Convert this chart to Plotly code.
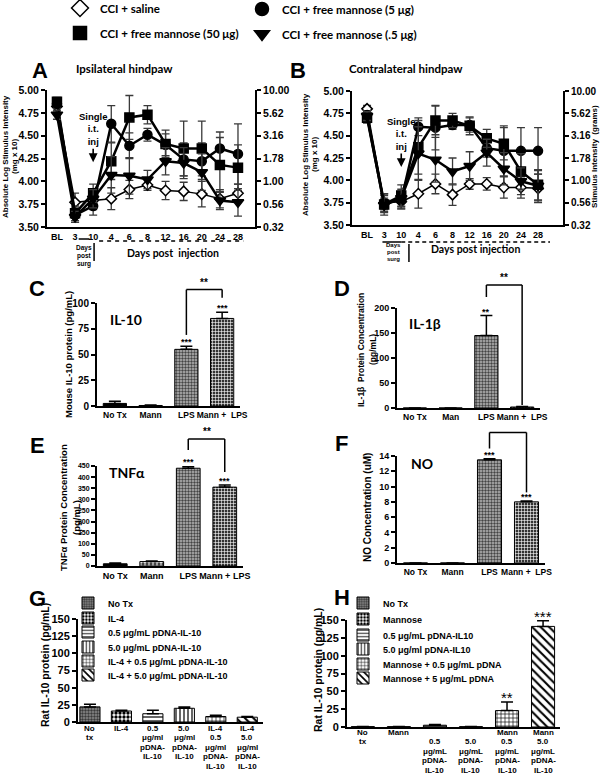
import plotly.graph_objects as go

W, H = 600, 775
ARIAL = "Liberation Sans, Arial, sans-serif"
CALI = "Lato, Open Sans, sans-serif"

# ---------------- data ----------------
days = ["BL", "3", "10", "4", "6", "8", "12", "16", "20", "24", "28"]
series_names = ["CCI + saline", "CCI + free mannose (5 μg)",
                "CCI + free mannose (50 μg)", "CCI + free mannose (.5 μg)"]

ipsi_saline = [4.82, 3.77, 3.79, 3.81, 3.91, 3.96, 3.90, 3.89, 3.86, 3.81, 3.87]
ipsi_m5 = [4.85, 3.63, 3.73, 4.63, 4.39, 4.51, 4.40, 4.24, 4.22, 4.36, 4.30]
ipsi_m50 = [4.87, 3.65, 3.87, 4.22, 4.70, 4.73, 4.41, 4.36, 4.36, 4.18, 4.15]
ipsi_m05 = [4.73, 3.61, 3.81, 4.07, 4.06, 4.02, 4.22, 4.20, 4.10, 3.79, 3.77]
ipsi_saline_err = [0.05, 0.10, 0.10, 0.12, 0.10, 0.06, 0.10, 0.10, 0.14, 0.10, 0.10]
ipsi_m5_err = [0.05, 0.08, 0.10, 0.20, 0.14, 0.07, 0.12, 0.18, 0.20, 0.18, 0.33]
ipsi_m50_err = [0.05, 0.08, 0.10, 0.20, 0.24, 0.10, 0.15, 0.30, 0.30, 0.30, 0.25]
ipsi_m05_err = [0.05, 0.06, 0.10, 0.20, 0.20, 0.10, 0.15, 0.17, 0.20, 0.10, 0.15]

contra_saline = [4.80, 3.75, 3.76, 3.85, 3.96, 3.84, 3.96, 3.96, 3.92, 3.92, 3.91]
contra_m5 = [4.73, 3.75, 3.78, 4.60, 4.59, 4.62, 4.62, 4.36, 4.33, 4.33, 4.33]
contra_m50 = [4.70, 3.73, 3.83, 4.37, 4.67, 4.67, 4.61, 4.47, 4.41, 4.10, 3.95]
contra_m05 = [4.72, 3.72, 3.80, 4.30, 4.23, 4.10, 4.16, 4.31, 4.13, 3.99, 3.94]
contra_saline_err = [0.04, 0.08, 0.08, 0.16, 0.11, 0.12, 0.06, 0.07, 0.12, 0.12, 0.16]
contra_m5_err = [0.05, 0.10, 0.10, 0.10, 0.25, 0.05, 0.08, 0.10, 0.28, 0.26, 0.26]
contra_m50_err = [0.06, 0.12, 0.12, 0.30, 0.16, 0.08, 0.10, 0.10, 0.18, 0.20, 0.17]
contra_m05_err = [0.05, 0.08, 0.10, 0.30, 0.25, 0.15, 0.16, 0.15, 0.18, 0.15, 0.17]

left_ticks = [3.50, 3.75, 4.00, 4.25, 4.50, 4.75, 5.00]
right_tick_labels = ["0.32", "0.56", "1.00", "1.78", "3.16", "5.62", "10.00"]

cats_C = ["No Tx", "Mann", "LPS", "Mann +\u00a0 LPS"]
il10_mouse = [2.5, 0.5, 55, 85]
il10_mouse_err = [2, 0.5, 3, 6]
stars_C = ["", "", "***", "***"]

cats_D = ["No Tx", "Man", "LPS", "Mann +\u00a0 LPS"]
il1b = [0, 0, 145, 2]
il1b_err = [0, 0, 40, 1]
stars_D = ["", "", "**", ""]

cats_E = ["No Tx", "Mann", "LPS", "Mann + LPS"]
tnfa = [10, 20, 440, 355]
tnfa_err = [4, 3, 8, 10]
stars_E = ["", "", "***", "***"]

cats_F = ["No Tx", "Mann", "LPS", "Mann +\u00a0 LPS"]
no_conc = [0, 0, 13.5, 8]
no_conc_err = [0, 0, 0.15, 0.1]
stars_F = ["", "", "***", "***"]

cats_G = ["No tx", "IL-4", "0.5 μg/ml pDNA-IL-10", "5.0 μg/ml pDNA-IL-10",
          "IL-4 0.5 μg/ml pDNA-IL-10", "IL-4 5.0 μg/ml pDNA-IL-10"]
tick_lines_G = [["No", "tx"], ["IL-4"], ["0.5", "μg/ml", "pDNA-", "IL-10"],
                ["5.0", "μg/ml", "pDNA-", "IL-10"], ["IL-4", "0.5", "μg/ml", "pDNA-", "IL-10"],
                ["IL-4", "5.0", "μg/ml", "pDNA-", "IL-10"]]
legend_G = ["No Tx", "IL-4", "0.5 μg/mL pDNA-IL-10", "5.0 μg/mL pDNA-IL-10",
            "IL-4 + 0.5 μg/mL pDNA-IL-10", "IL-4 + 5.0 μg/mL pDNA-IL-10"]
rat_il10_G = [22, 16, 12, 20, 8, 7]
rat_il10_G_err = [4, 1, 5, 2, 2, 1]

cats_H = ["No tx", "Mann", "0.5 μg/mL pDNA-IL-10", "5.0 μg/mL pDNA-IL-10",
          "Mann 0.5 μg/mL pDNA-IL-10", "Mann 5.0 μg/mL pDNA-IL-10"]
tick_lines_H = [["No", "tx"], ["Mann"], ["", "0.5", "μg/mL", "pDNA-", "IL-10"],
                ["", "5.0", "μg/mL", "pDNA-", "IL-10"], ["Mann", "0.5", "μg/mL", "pDNA-", "IL-10"],
                ["Mann", "5.0", "μg/mL", "pDNA-", "IL-10"]]
legend_H = ["No Tx", "Mannose", "0.5 μg/mL pDNA-IL10", "5.0 μg/ml pDNA-IL10",
            "Mannose + 0.5 μg/mL pDNA", "Mannose + 5 μg/mL pDNA"]
rat_il10_H = [0.5, 0.5, 2.5, 0.5, 23, 141]
rat_il10_H_err = [0.3, 0.3, 1, 0.3, 12, 8]
stars_H = ["", "", "", "", "**", "***"]


# ---------------- helpers ----------------
def px(x):
    return x / W


def py(y):
    return 1 - y / H


def xdom(a, b):
    return [a / W, b / W]


def ydom(top, bottom):
    return [1 - bottom / H, 1 - top / H]


def tfont(size, family=ARIAL, weight="bold"):
    return dict(family=family, size=size, color="black", weight=weight)


PAT = {
    "solid": dict(color="black", shape="", bg="black", fg="black", size=4, sol=0.3),
    "light": dict(color="#b8b8b8", shape=".", bg="#bdbdbd", fg="#4a4a4a", size=3, sol=0.5),
    "dark": dict(color="#333333", shape="+", bg="#3a3a3a", fg="#000000", size=3, sol=0.35),
    "check": dict(color="white", shape=".", bg="white", fg="black", size=4, sol=0.55),
    "gray": dict(color="#808080", shape=".", bg="#8c8c8c", fg="#3a3a3a", size=3, sol=0.5),
    "hline": dict(color="white", shape="-", bg="white", fg="black", size=4, sol=0.3),
    "vline": dict(color="white", shape="|", bg="white", fg="black", size=4, sol=0.3),
    "grid": dict(color="white", shape="+", bg="white", fg="black", size=4, sol=0.3),
    "diag": dict(color="white", shape="\\", bg="white", fg="black", size=6, sol=0.35),
}

fig = go.Figure()

# ---------------- line panels A, B ----------------
styles = [
    dict(sym="diamond", size=8, fill="white", lw=1.5),
    dict(sym="circle", size=9, fill="black", lw=2.5),
    dict(sym="square", size=9, fill="black", lw=2.5),
    dict(sym="triangle-down", size=10, fill="black", lw=2.5),
]


def add_lines(xa, ya, ys_list, es_list):
    for name, ys, es, st in zip(series_names, ys_list, es_list, styles):
        fig.add_trace(go.Scatter(
            x=days, y=ys, mode="lines+markers", xaxis=xa, yaxis=ya, name=name,
            line=dict(color="black", width=st["lw"]),
            marker=dict(symbol=st["sym"], size=st["size"], color=st["fill"],
                        line=dict(color="black", width=1.5)),
            error_y=dict(type="data", array=es, visible=True, color="#3a3a3a",
                         thickness=1.3, width=4),
            showlegend=False, hoverinfo="skip"))


add_lines("x", "y", [ipsi_saline, ipsi_m5, ipsi_m50, ipsi_m05],
          [ipsi_saline_err, ipsi_m5_err, ipsi_m50_err, ipsi_m05_err])
add_lines("x2", "y3", [contra_saline, contra_m5, contra_m50, contra_m05],
          [contra_saline_err, contra_m5_err, contra_m50_err, contra_m05_err])
# empty traces so the right-hand axes exist
fig.add_trace(go.Scatter(x=[], y=[], xaxis="x", yaxis="y2", showlegend=False))
fig.add_trace(go.Scatter(x=[], y=[], xaxis="x2", yaxis="y4", showlegend=False))

# top legend (four single-entry legends)
top_leg_pos = [(80, 8), (262, 9), (80, 33), (262, 34)]
top_leg_ids = ["legend", "legend2", "legend3", "legend4"]
for name, st, lid in zip(series_names, styles, top_leg_ids):
    fig.add_trace(go.Scatter(
        x=[None], y=[None], mode="markers", xaxis="x", yaxis="y", name=name,
        marker=dict(symbol=st["sym"], size=13, color=st["fill"], line=dict(color="black", width=1.5)),
        legend=lid, showlegend=True))


# ---------------- bar panels ----------------
def add_bars(xa, ya, cats, vals, errs, pats):
    ps = [PAT[p] for p in pats]
    fig.add_trace(go.Bar(
        x=cats, y=vals, xaxis=xa, yaxis=ya, width=0.65,
        marker=dict(color=[p["color"] for p in ps], line=dict(color="black", width=1),
                    pattern=dict(shape=[p["shape"] for p in ps], bgcolor=[p["bg"] for p in ps],
                                 fgcolor=[p["fg"] for p in ps], size=[p["size"] for p in ps],
                                 solidity=[p["sol"] for p in ps], fgopacity=1)),
        error_y=dict(type="data", array=errs, arrayminus=[0] * len(errs), symmetric=False,
                     color="black", thickness=1.5, width=6),
        showlegend=False, hoverinfo="skip"))


add_bars("x3", "y5", cats_C, il10_mouse, il10_mouse_err, ["solid", "solid", "light", "dark"])
add_bars("x4", "y6", cats_D, il1b, il1b_err, ["solid", "solid", "light", "dark"])
add_bars("x5", "y7", cats_E, tnfa, tnfa_err, ["solid", "check", "light", "dark"])
add_bars("x6", "y8", cats_F, no_conc, no_conc_err, ["solid", "solid", "light", "dark"])

pats_G = ["gray", "check", "hline", "vline", "grid", "diag"]
pats_H = ["gray", "check", "hline", "vline", "grid", "diag"]
leg_y_G = [603, 618, 632, 647, 661, 675]
leg_y_H = [603, 619, 635, 649, 664, 678]


def add_legend_bars(xa, ya, cats, vals, errs, pats, names, start_id):
    for i, (c, v, e, p, n) in enumerate(zip(cats, vals, errs, pats, names)):
        s = PAT[p]
        fig.add_trace(go.Bar(
            x=[c], y=[v], xaxis=xa, yaxis=ya, width=0.64, name=n,
            marker=dict(color=s["color"], line=dict(color="black", width=1),
                        pattern=dict(shape=s["shape"], bgcolor=s["bg"], fgcolor=s["fg"],
                                     size=s["size"], solidity=s["sol"], fgopacity=1)),
            error_y=dict(type="data", array=[e], arrayminus=[0], symmetric=False,
                         color="black", thickness=1.5, width=6),
            legend="legend%d" % (start_id + i), showlegend=True, hoverinfo="skip"))


add_legend_bars("x7", "y9", cats_G, rat_il10_G, rat_il10_G_err, pats_G, legend_G, 5)
add_legend_bars("x8", "y10", cats_H, rat_il10_H, rat_il10_H_err, pats_H, legend_H, 11)

# ---------------- axes ----------------
AXLINE = dict(showline=True, linecolor="black", linewidth=2, showgrid=False, zeroline=False,
              fixedrange=True)


def cat_x(dom, anchor, cats, rng, fsize, show=True):
    d = dict(domain=dom, anchor=anchor, type="category", categoryorder="array",
             categoryarray=cats, range=rng, ticks="", tickangle=0, tickfont=tfont(fsize),
             showticklabels=show)
    d.update(AXLINE)
    return d


def val_y(dom, anchor, rng, tv, tt, fsize, side="left", overlay=None):
    d = dict(anchor=anchor, range=rng, tickvals=tv, ticktext=tt, side=side, ticks="outside",
             ticklen=4, tickwidth=1.5, tickcolor="black", tickfont=tfont(fsize))
    d.update(AXLINE)
    if overlay:
        d["overlaying"] = overlay
    else:
        d["domain"] = dom
    return d


left_lbl = ["%.2f" % v for v in left_ticks]
domA_x, domA_y = xdom(47, 255), ydom(90, 227)
domB_x, domB_y = xdom(352, 563), ydom(91, 225)

layout_axes = dict(
    xaxis=cat_x(domA_x, "y", days, [-0.55, 10.94], 9),
    yaxis=val_y(domA_y, "x", [3.5, 5.0], left_ticks, left_lbl, 10.5),
    yaxis2=val_y(None, "x", [3.5, 5.0], left_ticks, right_tick_labels, 10.5, side="right", overlay="y"),
    xaxis2=cat_x(domB_x, "y3", days, [-0.88, 11.46], 9),
    yaxis3=val_y(domB_y, "x2", [3.5, 5.0], left_ticks, left_lbl, 10.5),
    yaxis4=val_y(None, "x2", [3.5, 5.0], left_ticks, right_tick_labels, 10, side="right", overlay="y3"),
    xaxis3=cat_x(xdom(97, 240), "y5", cats_C, [-0.5, 3.5], 8.5),
    yaxis5=val_y(ydom(303, 406), "x3", [0, 100], [0, 25, 50, 75, 100], ["0", "25", "50", "75", "100"], 10),
    xaxis4=cat_x(xdom(397, 540), "y6", cats_D, [-0.5, 3.5], 8.5),
    yaxis6=val_y(ydom(308, 408), "x4", [0, 200], [0, 50, 100, 150, 200], ["0", "50", "100", "150", "200"], 9),
    xaxis5=cat_x(xdom(97, 243), "y7", cats_E, [-0.5, 3.5], 9),
    yaxis7=val_y(ydom(466, 566), "x5", [0, 450], list(range(0, 451, 50)),
                 [str(v) for v in range(0, 451, 50)], 7),
    xaxis6=cat_x(xdom(397, 545), "y8", cats_F, [-0.5, 3.5], 8.5),
    yaxis8=val_y(ydom(456, 563), "x6", [0, 14], list(range(0, 15, 2)),
                 [str(v) for v in range(0, 15, 2)], 9),
    xaxis7=cat_x(xdom(78, 263), "y9", cats_G, [-0.38, 5.5], 10, show=False),
    yaxis9=val_y(ydom(619, 722), "x7", [0, 150], list(range(0, 151, 25)),
                 [str(v) for v in range(0, 151, 25)], 11),
    xaxis8=cat_x(xdom(347, 560), "y10", cats_H, [-0.44, 5.47], 10, show=False),
    yaxis10=val_y(ydom(620, 727), "x8", [0, 150], list(range(0, 151, 25)),
                  [str(v) for v in range(0, 151, 25)], 11),
)

# ---------------- legends ----------------
legends = {}
for lid, (sx, sy) in zip(top_leg_ids, top_leg_pos):
    legends[lid] = dict(x=px(sx - 20), y=py(sy), xanchor="left", yanchor="middle",
                        bgcolor="rgba(0,0,0,0)", borderwidth=0, itemwidth=30,
                        font=tfont(11.5, CALI), itemclick=False, itemdoubleclick=False)
for i, yy in enumerate(leg_y_G):
    legends["legend%d" % (5 + i)] = dict(x=px(88 - 20), y=py(yy), xanchor="left", yanchor="middle",
                                         bgcolor="rgba(0,0,0,0)", borderwidth=0, itemwidth=30,
                                         font=tfont(9), itemclick=False, itemdoubleclick=False)
for i, yy in enumerate(leg_y_H):
    legends["legend%d" % (11 + i)] = dict(x=px(363 - 20), y=py(yy), xanchor="left", yanchor="middle",
                                          bgcolor="rgba(0,0,0,0)", borderwidth=0, itemwidth=30,
                                          font=tfont(9), itemclick=False, itemdoubleclick=False)

# ---------------- annotations ----------------
ann = []


def txt(x, y, s, font, angle=0, xanchor="center", height=None):
    d = dict(x=px(x), y=py(y), xref="paper", yref="paper", text=s, showarrow=False,
             font=font, textangle=angle, xanchor=xanchor, yanchor="middle", borderpad=0)
    if height:
        d["height"] = height
    ann.append(d)


# panel letters
for L, x, y in [("A", 40, 70), ("B", 298, 70), ("C", 37, 288), ("D", 342, 288),
                ("E", 37, 445), ("F", 342, 443), ("G", 37, 598), ("H", 342, 597)]:
    txt(x, y, L, tfont(22))

txt(75, 69, "Ipsilateral hindpaw", tfont(11.5, CALI), xanchor="left")
txt(348, 69, "Contralateral hindpaw", tfont(11.5, CALI), xanchor="left")

# axis titles
txt(5, 157, "Absolute Log Stimulus Intensity", tfont(8), -90)
txt(14, 157, "(mg x 10)", tfont(8), -90)
txt(306, 155, "Absolute Log Stimulus Intensity", tfont(8), -90)
txt(315, 155, "(mg x 10)", tfont(8), -90)
txt(594, 157, "Stimulus Intensity\u00a0 (grams)", tfont(8), -90)
txt(69, 355, "Mouse IL-10 protein (pg/mL)", tfont(9.5), -90)
txt(361, 350, "IL-1β\u00a0 Protein Concentration", tfont(8.5), -90)
txt(373, 350, "(pg/mL)", tfont(8.5), -90)
txt(63, 508, "TNFα Protein Concentration", tfont(9.5), -90)
txt(76, 518, "(pg/mL)", tfont(9.5), -90)
txt(367, 508, "NO Concentration (uM)", tfont(10), -90)
txt(45, 665, "Rat IL-10 protein (pg/mL)", tfont(10.5), -90)
txt(318, 670, "Rat IL-10 protein (pg/mL)", tfont(10.5), -90)

# inner panel labels
txt(126, 320, "IL-10", tfont(14, CALI))
txt(425, 323, "IL-1β", tfont(14, CALI))
txt(127, 472, "TNFα", tfont(14, CALI))
txt(422, 463, "NO", tfont(14, CALI))

# days annotations
txt(173, 253, "Days post\u00a0 injection", tfont(10.5, CALI))
for s, y in [("Days", 248), ("post", 256), ("surg", 264)]:
    txt(84, y, s, tfont(6.5))
txt(475, 249, "Days post injection", tfont(10.5, CALI))
for s, y in [("Days", 245), ("post", 252), ("surg", 259)]:
    txt(393, y, s, tfont(6))

# injection arrows (positioned at the day-10 category)
i10 = days.index("10")
for xa, ya, yhead in [("x", "y", 4.21), ("x2", "y3", 4.15)]:
    ann.append(dict(x=i10, y=yhead, xref=xa, yref=ya, text="Single<br>i.t.<br>inj",
                    showarrow=True, arrowhead=2, arrowsize=1.1, arrowwidth=1.6, arrowcolor="black",
                    ax=0, ay=-33, font=tfont(9.5)))


# multi-line category labels for panels G and H
def cat_labels(xa, lines_list, y0, dy, size):
    for i, lines in enumerate(lines_list):
        for k, s in enumerate(lines):
            if s:
                ann.append(dict(x=i, y=py(y0 + k * dy), xref=xa, yref="paper", text=s,
                                showarrow=False, font=tfont(size), yanchor="middle",
                                borderpad=0))


cat_labels("x7", tick_lines_G, 728, 9.5, 8)
cat_labels("x8", tick_lines_H, 732, 9.5, 8)


# significance stars
def stars(xa, ya, vals, errs, marks, size, weight="bold", shift=-3):
    for i, (v, e, m) in enumerate(zip(vals, errs, marks)):
        if m:
            ann.append(dict(x=i, y=v + e, xref=xa, yref=ya, text=m, showarrow=False,
                            yanchor="bottom", yshift=shift, font=tfont(size, weight=weight)))


stars("x3", "y5", il10_mouse, il10_mouse_err, stars_C, 9)
stars("x4", "y6", il1b, il1b_err, stars_D, 9)
stars("x5", "y7", tnfa, tnfa_err, stars_E, 9)
stars("x6", "y8", no_conc, no_conc_err, stars_F, 9)
stars("x8", "y10", rat_il10_H, rat_il10_H_err, stars_H, 15, weight="normal", shift=-6)

# ---------------- shapes ----------------
shapes = []


def line(xref, yref, x0, y0, x1, y1, dash="solid", w=1.5):
    shapes.append(dict(type="line", xref=xref, yref=yref, x0=x0, y0=y0, x1=x1, y1=y1,
                       line=dict(color="black", width=w, dash=dash)))


def bracket(xa, ya, cats, a, b, top, lo_a, lo_b, label):
    ydm = ya + " domain"
    ia, ib = cats.index(a), cats.index(b)
    line(xa, ydm, ia, lo_a, ia, top)
    line(xa, ydm, ia, top, ib, top)
    line(xa, ydm, ib, lo_b, ib, top)
    if label:
        ann.append(dict(x=(ia + ib) / 2, y=top, xref=xa, yref=ydm,
                        text=label, showarrow=False, yanchor="bottom", yshift=0, font=tfont(10)))


bracket("x3", "y5", cats_C, "LPS", cats_C[3], 1.13, 0.69, 1.05, "**")
bracket("x4", "y6", cats_D, "LPS", cats_D[3], 1.23, 1.11, 0.03, "**")
bracket("x5", "y7", cats_E, "LPS", cats_E[3], 1.27, 1.16, 0.94, "**")
bracket("x6", "y8", cats_F, "LPS", cats_F[3], 1.22, 1.07, 0.66, "")

# timeline lines under x axes
i3, i28 = days.index("3"), days.index("28")
line("x", "paper", i3 + 0.2, py(239), i10 - 0.2, py(239))
line("x", "paper", i10 + 0.33, py(241), i28 + 0.3, py(241), dash="4px,4px")
line("x", "paper", i10 + 0.05, py(243), i10 + 0.05, py(261))
line("x2", "paper", i3 - 0.1, py(242), i10, py(242))
line("x2", "paper", i10, py(242), i28 + 0.7, py(242), dash="4px,3px")
line("x2", "paper", i10 + 0.45, py(244), i10 + 0.45, py(262))

fig.update_layout(
    width=W, height=H, margin=dict(l=0, r=0, t=0, b=0, autoexpand=False),
    paper_bgcolor="white", plot_bgcolor="white", barmode="overlay",
    font=dict(family=ARIAL, color="black"),
    annotations=ann, shapes=shapes, **layout_axes, **legends)

fig.write_html("out.html", config={"displayModeBar": False},
               post_script="document.body.style.margin='0px';")
